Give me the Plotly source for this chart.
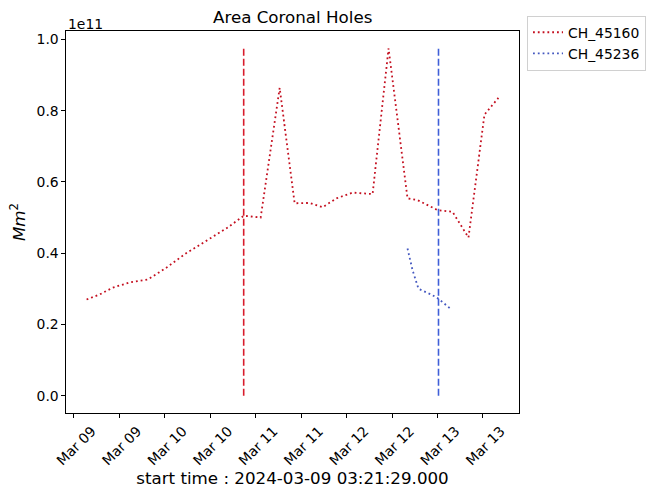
import plotly.graph_objects as go
from datetime import datetime

# ---- data ----
red_name = "CH_45160"
red_times = [
    "2024-03-09 03:21:29", "2024-03-09 06:48", "2024-03-09 10:14", "2024-03-09 14:46",
    "2024-03-09 19:31", "2024-03-10 00:16", "2024-03-10 05:32", "2024-03-10 09:14",
    "2024-03-10 12:40", "2024-03-10 16:37", "2024-03-10 20:50", "2024-03-11 01:19",
    "2024-03-11 06:20", "2024-03-11 10:17", "2024-03-11 14:14", "2024-03-11 17:40",
    "2024-03-11 21:22", "2024-03-12 01:35", "2024-03-12 06:52", "2024-03-12 11:05",
    "2024-03-12 16:05", "2024-03-12 18:44", "2024-03-13 00:00", "2024-03-13 03:58",
    "2024-03-13 08:11", "2024-03-13 12:24", "2024-03-13 16:05",
]
red_area = [
    0.270e11, 0.284e11, 0.303e11, 0.318e11, 0.326e11, 0.358e11, 0.399e11, 0.423e11,
    0.445e11, 0.472e11, 0.505e11, 0.500e11, 0.864e11, 0.540e11, 0.541e11, 0.529e11,
    0.554e11, 0.570e11, 0.566e11, 0.975e11, 0.554e11, 0.549e11, 0.521e11, 0.516e11,
    0.444e11, 0.789e11, 0.836e11,
]
blue_name = "CH_45236"
blue_times = [
    "2024-03-12 16:05", "2024-03-12 17:25", "2024-03-12 18:59",
    "2024-03-12 22:41", "2024-03-13 00:16", "2024-03-13 03:26",
]
blue_area = [0.413e11, 0.352e11, 0.300e11, 0.282e11, 0.272e11, 0.244e11]

red_marker_time = "2024-03-10 20:50"
blue_marker_time = "2024-03-13 00:16"

start_label = "start time : 2024-03-09 03:21:29.000"
title_text = "Area Coronal Holes"
scale = 1e11
tick_values = [0.0, 0.2, 0.4, 0.6, 0.8, 1.0]

# ---- styles ----
RED_LINE = "#c40f1f"
RED_V = "#d81c2c"
BLUE_LINE = "#4458c0"
BLUE_V = "#3f5fd8"
FONT = "DejaVu Sans"

fig = go.Figure()
vtop = max(red_area) / scale

fig.add_trace(go.Scatter(x=red_times, y=[v / scale for v in red_area], mode="lines",
                         name=red_name, line=dict(color=RED_LINE, width=1.8, dash="1.8px,3px")))
fig.add_trace(go.Scatter(x=blue_times, y=[v / scale for v in blue_area], mode="lines",
                         name=blue_name, line=dict(color=BLUE_LINE, width=1.8, dash="1.8px,3px")))
fig.add_trace(go.Scatter(x=[red_marker_time, red_marker_time], y=[0, vtop], mode="lines",
                         showlegend=False, line=dict(color=RED_V, width=1.6, dash="7px,3px")))
fig.add_trace(go.Scatter(x=[blue_marker_time, blue_marker_time], y=[0, vtop], mode="lines",
                         showlegend=False, line=dict(color=BLUE_V, width=1.6, dash="7px,3px")))

# axis ranges with 5% margins like matplotlib
def parse(s):
    for f in ("%Y-%m-%d %H:%M:%S", "%Y-%m-%d %H:%M"):
        try:
            return datetime.strptime(s, f)
        except ValueError:
            pass
alltimes = [parse(t) for t in red_times + blue_times]
t0, t1 = min(alltimes), max(alltimes)
pad = (t1 - t0) * 0.05
fmt = "%Y-%m-%d %H:%M:%S"
xr = [(t0 - pad).strftime(fmt), (t1 + pad).strftime(fmt)]
ypad = vtop * 0.05
yr = [-ypad, vtop + ypad]

fig.update_layout(
    width=649, height=492,
    margin=dict(l=66, r=130, t=31, b=79, autoexpand=False),
    paper_bgcolor="white", plot_bgcolor="white",
    font=dict(family=FONT, size=14, color="black"),
    showlegend=True,
    legend=dict(x=1.0177, y=1.04, xanchor="left", yanchor="top",
                bordercolor="#d0d0d0", borderwidth=1, bgcolor="white",
                font=dict(size=13.9), itemwidth=30, tracegroupgap=0),
    xaxis=dict(type="date", range=xr, tick0="2024-03-09", dtick=12 * 3600 * 1000,
               tickformat="%b %d", tickangle=-45, ticklabelshift=18, automargin=False,
               showline=True, linecolor="black", linewidth=1.1, mirror=True,
               ticks="outside", ticklen=3.5, tickwidth=1.1, tickcolor="black",
               showgrid=False, zeroline=False,
               title=dict(text=start_label, font=dict(size=16.7), standoff=2),
               tickfont=dict(size=13.9)),
    yaxis=dict(range=yr, tickvals=tick_values, tickformat=".1f", automargin=False,
               showline=True, linecolor="black", linewidth=1.1, mirror=True,
               ticks="outside", ticklen=3.5, tickwidth=1.1, tickcolor="black",
               showgrid=False, zeroline=False,
               title=dict(text="<i>Mm</i><sup>2</sup>", font=dict(size=16.7), standoff=6),
               tickfont=dict(size=13.9)),
    annotations=[
        dict(text=title_text, xref="paper", yref="paper", x=0.5, y=1, xanchor="center",
             yanchor="bottom", yshift=2, showarrow=False, font=dict(size=16.7)),
        dict(text="1e11", xref="paper", yref="paper", x=0, y=1, xanchor="left",
             yanchor="bottom", yshift=-3, showarrow=False, font=dict(size=13.9)),
    ],
)

fig.write_html("out.html")
